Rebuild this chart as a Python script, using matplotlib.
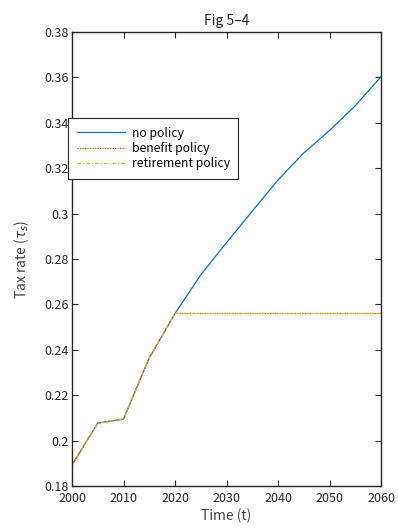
import matplotlib
matplotlib.use("Agg")
import matplotlib.pyplot as plt

years = [2000, 2005, 2010, 2015, 2020, 2025, 2030, 2035, 2040, 2045, 2050, 2055, 2060]
no_policy = [0.1893, 0.2077, 0.2095, 0.2364, 0.2560, 0.2730, 0.2872, 0.3011, 0.3148, 0.3267, 0.3366, 0.3475, 0.3603]
benefit_policy = [0.1893, 0.2077, 0.2095, 0.2364, 0.2560, 0.2560, 0.2560, 0.2560, 0.2560, 0.2560, 0.2560, 0.2560, 0.2560]
retirement_policy = [0.1893, 0.2077, 0.2095, 0.2364, 0.2560, 0.2560, 0.2560, 0.2560, 0.2560, 0.2560, 0.2560, 0.2560, 0.2560]
series_names = ["no policy", "benefit policy", "retirement policy"]
xticks = [2000, 2010, 2020, 2030, 2040, 2050, 2060]
yticks = [0.18, 0.2, 0.22, 0.24, 0.26, 0.28, 0.3, 0.32, 0.34, 0.36, 0.38]

plt.rcParams['font.family'] = ['Noto Sans CJK JP', 'DejaVu Sans']
plt.rcParams['mathtext.fontset'] = 'dejavusans'

fig = plt.figure(figsize=(3.98, 5.32), dpi=100)
ax = fig.add_axes([72/398, 1-486/532, (381-72)/398, (486-32)/532])

ax.plot(years, no_policy, color='#0072BD', lw=0.9, label=series_names[0])
ax.plot(years, benefit_policy, color='#D95319', lw=0.9, ls=(0, (1, 1)), label=series_names[1])
ax.plot(years, retirement_policy, color='#EDB120', lw=0.9, ls=(0, (3, 1.5, 1, 1.5)), label=series_names[2])

ax.set_xlim(2000, 2060)
ax.set_ylim(0.18, 0.38)
ax.set_xticks(xticks)
ax.set_xticklabels([str(x) for x in xticks])
ax.set_yticks(yticks)
ax.set_yticklabels([f"{y:g}" for y in yticks])
ax.tick_params(direction='in', top=True, right=True, labelsize=9, length=4, width=0.8, colors='#262626', pad=2)
ax.tick_params(axis='x', pad=4)
for s in ax.spines.values():
    s.set_color('#262626')
    s.set_linewidth(1.0)

ax.set_title("Fig 5\u20134", fontsize=10, color='#262626', pad=5)
ax.set_xlabel("Time (t)", fontsize=10, color='#404040', labelpad=3)
ax.set_ylabel("Tax rate ($\\tau_s$)", fontsize=10, color='#404040', labelpad=10)

leg = ax.legend(loc='upper left', bbox_to_anchor=(68/398, 1-118/532), bbox_transform=fig.transFigure,
                fontsize=8.8, frameon=True, fancybox=False, edgecolor='#262626', framealpha=1,
                handlelength=4.0, handletextpad=0.5, borderpad=0.7, borderaxespad=0,
                labelspacing=0.2)
leg._legend_box.sep = 0
leg.get_frame().set_linewidth(0.8)

fig.savefig("out.png", dpi=100)
